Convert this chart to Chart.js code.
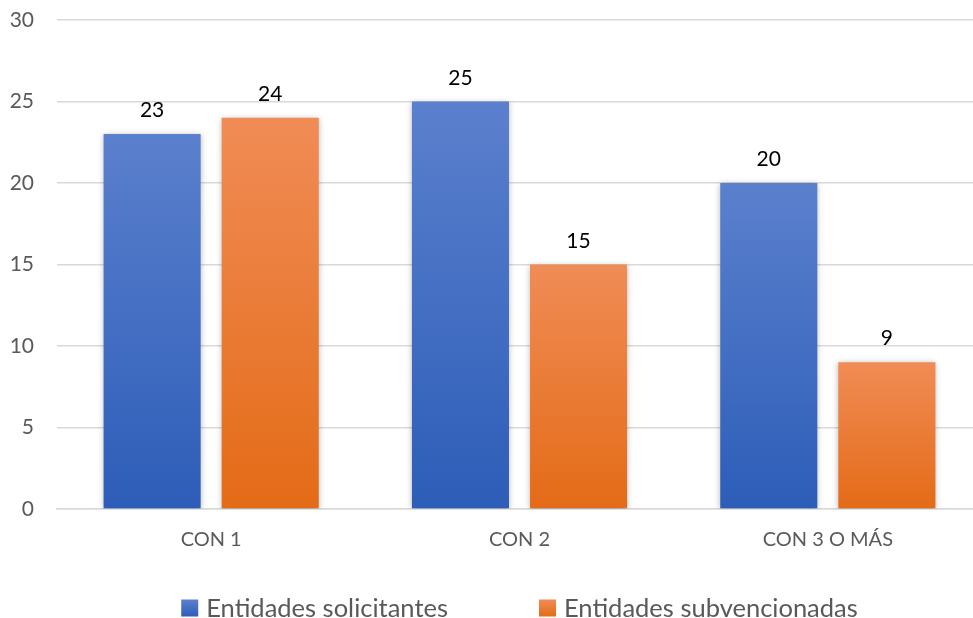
<!DOCTYPE html>
<html>
<head>
<meta charset="utf-8">
<script src="https://cdn.jsdelivr.net/npm/chart.js@4"></script>
<style>
html,body{margin:0;padding:0;background:#fff;overflow:hidden;width:973px;height:618px;}
#wrap{position:absolute;left:0;top:0;width:985px;height:618px;}
</style>
</head>
<body>
<div id="wrap"><canvas id="c" width="985" height="618"></canvas></div>
<script>
const categories = ["CON 1", "CON 2", "CON 3 O MÁS"];
const solicitantes = [23, 25, 20];
const subvencionadas = [24, 15, 9];
const seriesNames = ["Entidades solicitantes", "Entidades subvencionadas"];
const yTicks = [0, 5, 10, 15, 20, 25, 30];

const FONT = "Lato, 'Open Sans', sans-serif";
const blueTop = "#5b80cd", blueBot = "#2d5db8";
const orTop = "#f08c56", orBot = "#e46b17";

function grad(top, bot) {
  return function(ctx) {
    const chart = ctx.chart;
    if (!chart.chartArea || ctx.raw === undefined) return bot;
    const y = chart.scales.y;
    const yt = y.getPixelForValue(ctx.raw);
    const yb = y.getPixelForValue(0);
    if (!isFinite(yt) || !isFinite(yb) || yt === yb) return bot;
    const g = chart.ctx.createLinearGradient(0, yt, 0, yb);
    g.addColorStop(0, top);
    g.addColorStop(1, bot);
    return g;
  };
}

const shadowPlugin = {
  id: 'barShadow',
  beforeDatasetsDraw(chart) {
    const c = chart.ctx;
    c.save();
    c.shadowColor = 'rgba(0,0,0,0.28)';
    c.shadowBlur = 6;
    c.shadowOffsetX = 0;
    c.shadowOffsetY = 1;
  },
  afterDatasetsDraw(chart) {
    chart.ctx.restore();
  }
};

const labelPlugin = {
  id: 'valueLabels',
  afterDatasetsDraw(chart) {
    const c = chart.ctx;
    c.save();
    c.font = "21px " + FONT;
    c.fillStyle = "#000";
    c.textAlign = "center";
    c.textBaseline = "alphabetic";
    chart.data.datasets.forEach((ds, i) => {
      chart.getDatasetMeta(i).data.forEach((bar, j) => {
        c.fillText(String(ds.data[j]), bar.x, bar.y - 17);
      });
    });
    c.restore();
  }
};

const legendPlugin = {
  id: 'customLegend',
  afterDraw(chart) {
    const c = chart.ctx;
    const ca = chart.chartArea;
    c.save();
    c.font = "25.5px " + FONT;
    const box = 17, gapBT = 8, gapItems = 91;
    const items = chart.data.datasets.map(ds => ({
      text: ds.label, color: ds.legendColor, w: c.measureText(ds.label).width
    }));
    let total = 0;
    items.forEach((it, k) => { total += box + gapBT + it.w + (k ? gapItems : 0); });
    let x = (ca.left + ca.right) / 2 - total / 2;
    const cy = 608;
    items.forEach(it => {
      const g = c.createLinearGradient(0, cy - box / 2, 0, cy + box / 2);
      g.addColorStop(0, it.color[0]);
      g.addColorStop(1, it.color[1]);
      c.fillStyle = g;
      c.fillRect(x, cy - box / 2, box, box);
      x += box + gapBT;
      c.fillStyle = "#595959";
      c.textAlign = "left";
      c.textBaseline = "middle";
      c.fillText(it.text, x, cy + 1);
      x += it.w + gapItems;
    });
    c.restore();
  }
};

new Chart(document.getElementById('c'), {
  type: 'bar',
  data: {
    labels: categories,
    datasets: [
      { label: seriesNames[0], data: solicitantes, backgroundColor: grad(blueTop, blueBot), legendColor: [blueTop, blueBot] },
      { label: seriesNames[1], data: subvencionadas, backgroundColor: grad(orTop, orBot), legendColor: [orTop, orBot] }
    ]
  },
  options: {
    responsive: false,
    animation: false,
    devicePixelRatio: 1,
    categoryPercentage: 0.766,
    barPercentage: 0.822,
    layout: { padding: { top: 20, right: 3, bottom: 65, left: 0 } },
    plugins: { legend: { display: false }, tooltip: { enabled: false } },
    scales: {
      x: {
        grid: { display: false, drawTicks: false },
        border: { display: true, color: '#d9d9d9', width: 1.5 },
        ticks: { color: '#595959', font: { family: FONT, size: 20 }, padding: 19, maxRotation: 0 },
        afterFit(s) { s.height = 44; s.paddingLeft = 0; s.paddingRight = 0; }
      },
      y: {
        min: 0, max: 30,
        afterBuildTicks(s) { s.ticks = yTicks.map(v => ({ value: v })); },
        grid: { color: '#d9d9d9', lineWidth: 1.5, drawTicks: false },
        border: { display: false },
        ticks: { color: '#595959', font: { family: FONT, size: 21 }, padding: 23 },
        afterFit(s) { s.width = 57; s.paddingTop = 0; s.paddingBottom = 0; }
      }
    }
  },
  plugins: [shadowPlugin, labelPlugin, legendPlugin]
});
</script>
</body>
</html>
